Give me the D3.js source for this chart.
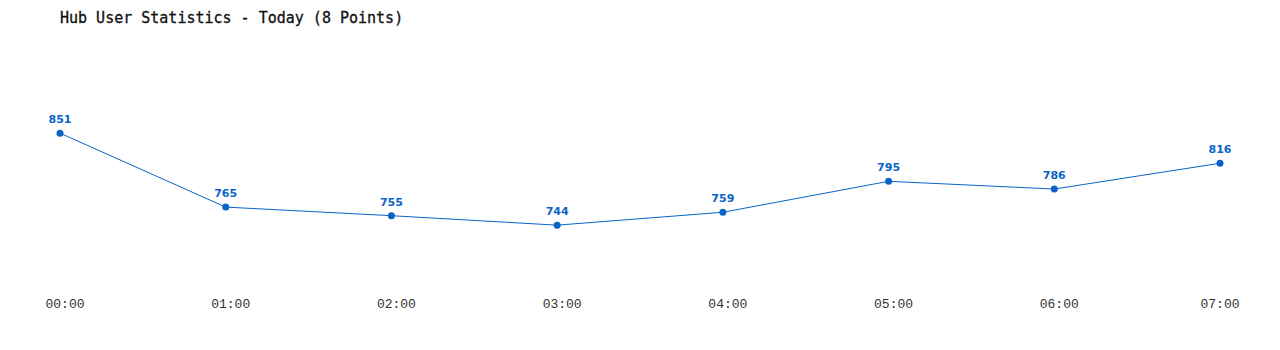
<!DOCTYPE html>
<html>
<head>
<meta charset="utf-8">
<script src="https://cdn.jsdelivr.net/npm/d3@7"></script>
<style>
    body { margin: 0; background: #fff; }
    svg { display: block; }
</style>
</head>
<body>
<div id="chart"></div>
<script>

const hours = ["00:00", "01:00", "02:00", "03:00", "04:00", "05:00", "06:00", "07:00"];
const users = [851, 765, 755, 744, 759, 795, 786, 816];

const params = {
    width: 1280,
    height: 350,
    lineColor: "#0a64c8"
};

const svg = d3.select("#chart")
    .append("svg")
        .attr("width", params.width)
        .attr("height", params.height)
        .attr("viewBox", [0, 0, params.width, params.height]);

// Title
svg.append("text")
    .attr("x", 60)
    .attr("y", 23)
    .attr("font-family", "'DejaVu Sans Mono', monospace")
    .attr("font-size", 15)
    .attr("stroke", "#111")
    .attr("stroke-width", 0.3)
    .attr("fill", "#111")
    .text("Hub User Statistics - Today (8 Points)");

// Scales
const x = d3.scalePoint()
    .domain(hours)
    .range([60, 1220]);

const y = d3.scaleLinear()
    .domain([700, 900])
    .range([263, 91]);

// Line
const line = d3.line()
    .x((d, i) => x(hours[i]))
    .y(d => y(d));

svg.append("path")
    .datum(users)
    .attr("fill", "none")
    .attr("stroke", params.lineColor)
    .attr("stroke-width", 1)
    .attr("d", line);

// Points
svg.append("g")
    .selectAll("circle")
    .data(users)
    .join("circle")
    .attr("cx", (d, i) => x(hours[i]))
    .attr("cy", d => y(d))
    .attr("r", 3.5)
    .attr("fill", params.lineColor);

// Value labels
svg.append("g")
    .selectAll("text")
    .data(users)
    .join("text")
    .attr("x", (d, i) => x(hours[i]))
    .attr("y", d => y(d) - 10)
    .attr("text-anchor", "middle")
    .attr("font-family", "'DejaVu Sans', Verdana, sans-serif")
    .attr("font-weight", "bold")
    .attr("font-size", 11)
    .attr("fill", params.lineColor)
    .text(d => d);

// X axis labels
svg.append("g")
    .selectAll("text")
    .data(hours)
    .join("text")
    .attr("x", d => Math.min(x(d) + 5, 1220))
    .attr("y", 308)
    .attr("text-anchor", "middle")
    .attr("font-family", "'Liberation Mono', monospace")
    .attr("font-size", 13)
    .attr("fill", "#333")
    .text(d => d);

</script>
</body>
</html>
